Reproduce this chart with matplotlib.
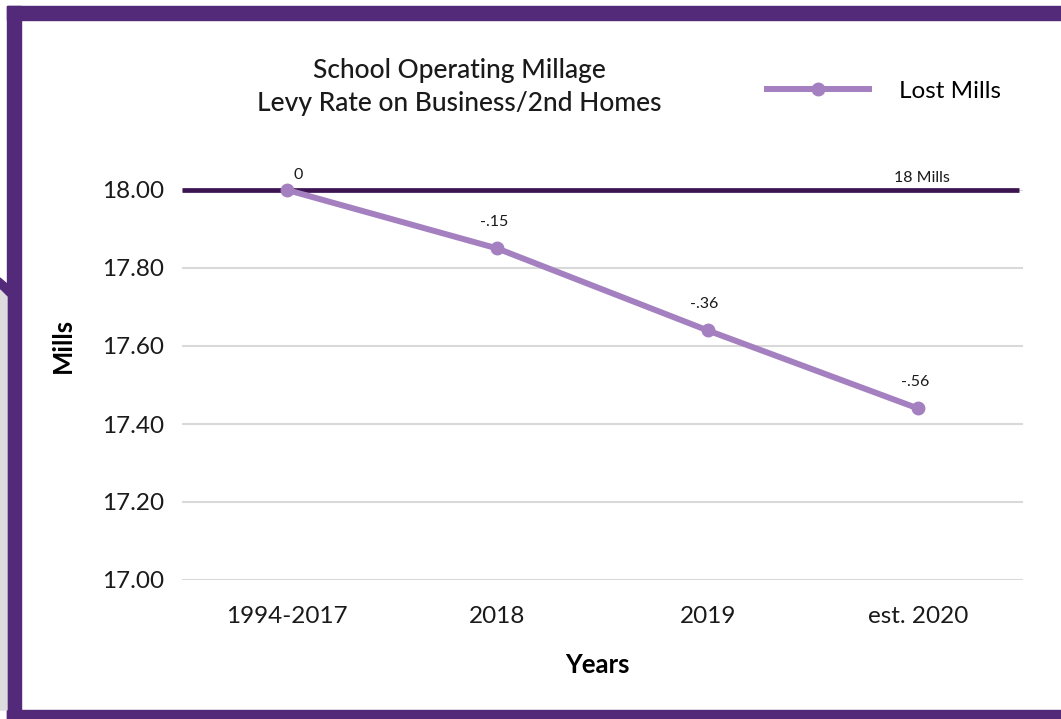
import numpy as np
import matplotlib.pyplot as plt
from matplotlib.patches import Rectangle, Polygon

plt.rcParams['font.family'] = ['Lato', 'DejaVu Sans']

years = ['1994-2017', '2018', '2019', 'est. 2020']
levy = [18.00, 17.85, 17.64, 17.44]
lost_labels = ['0', '-.15', '-.36', '-.56']
cap_level = 18.0
yticks = [17.00, 17.20, 17.40, 17.60, 17.80, 18.00]

W, H = 1061, 719
fig = plt.figure(figsize=(W / 100, H / 100), dpi=100)
fig.patch.set_facecolor('white')

purple = '#532a7a'
# frame around the slide
def px_rect(x0, y0, x1, y1, color):
    fig.patches.append(Rectangle((x0 / W, 1 - y1 / H), (x1 - x0) / W, (y1 - y0) / H,
                                 transform=fig.transFigure, color=color, zorder=0))

def px_poly(pts, color):
    fig.patches.append(Polygon([(x / W, 1 - y / H) for x, y in pts],
                               transform=fig.transFigure, color=color, zorder=0))

px_rect(7, 6, W, 20, purple)
px_rect(7, 6, 21, H, purple)
px_rect(7, 710, W, H, purple)
px_poly([(0, 278), (7, 284), (7, 297), (0, 290)], purple)
px_poly([(0, 290), (7, 297), (7, 710), (0, 710)], '#dcdcde')

ax = fig.add_axes([182 / W, 1 - 580 / H, (1023 - 182) / W, (580 - 190) / H])
x = np.arange(len(years))

for sp in ax.spines.values():
    sp.set_visible(False)
ax.set_xlim(-0.5, len(years) - 0.5)
ax.set_ylim(17.0, 18.0)
ax.set_yticks(yticks)
ax.set_yticklabels([f'{v:.2f}' for v in yticks])
ax.set_xticks(x)
ax.set_xticklabels(years)
ax.tick_params(length=0, labelsize=17.5, colors='#1a1a1a')
ax.tick_params(axis='y', pad=13)
ax.tick_params(axis='x', pad=19)
ax.grid(axis='y', color='#d9d9d9', linewidth=1.5)
ax.set_axisbelow(True)

ax.plot([-0.5, 3.48], [cap_level, cap_level], color='#3d1452', linewidth=3.4,
        solid_capstyle='butt', clip_on=False, zorder=3)
ax.plot(x, levy, color='#a480c0', linewidth=4.3, marker='o', markersize=9,
        clip_on=False, zorder=4, label='Lost Mills')

for i, (xi, yi, lab) in enumerate(zip(x, levy, lost_labels)):
    dx = 11 if i == 0 else -3
    dy = 15 if i == 0 else 26
    ax.annotate(lab, (xi, yi), xytext=(dx, dy), textcoords='offset pixels',
                ha='center', va='center', fontsize=11.5, color='#1a1a1a')

ax.annotate('18 Mills', (3.0, cap_level), xytext=(4, 12), textcoords='offset pixels',
            ha='center', va='center', fontsize=11.5, color='#1a1a1a')

ax.set_ylabel('Mills', fontsize=18.5, fontweight='bold')
ax.yaxis.set_label_coords((63 - 182) / (1023 - 182), (580 - 345) / (580 - 190))
ax.set_xlabel('Years', fontsize=18.5, fontweight='bold')
ax.xaxis.set_label_coords((597 - 182) / (1023 - 182), -(665 - 580) / (580 - 190))
ax.xaxis.label.set_va('center')
ax.yaxis.label.set_va('center')

fig.text(459 / W, 1 - 87 / H, 'School Operating Millage\nLevy Rate on Business/2nd Homes',
         ha='center', va='center', fontsize=19, fontweight='medium', linespacing=1.4,
         color='#1a1a1a')

ax.legend(loc='center', bbox_to_anchor=(884 / W, 1 - 91 / H), bbox_transform=fig.transFigure,
          frameon=False, fontsize=17.5, handlelength=4.2, handletextpad=1.2)

fig.savefig('out.png', dpi=100)
